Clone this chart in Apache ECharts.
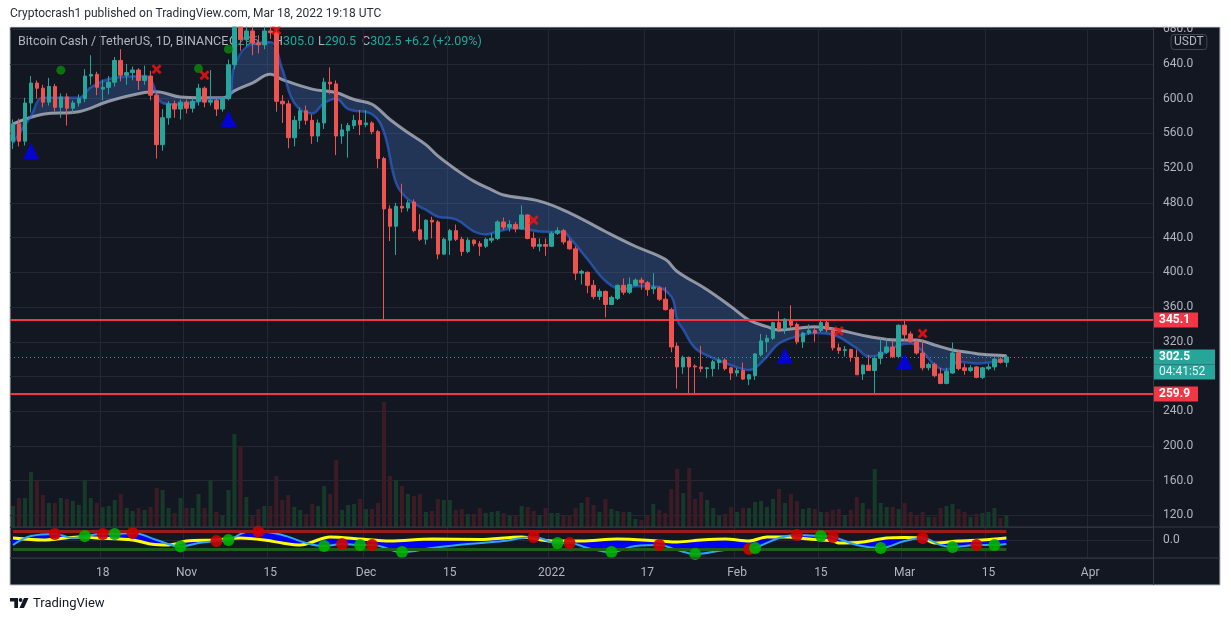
<!DOCTYPE html>
<html><head><meta charset="utf-8">
<script src="https://cdn.jsdelivr.net/npm/echarts@6/dist/echarts.min.js"></script>
<style>html,body{margin:0;padding:0;background:#fff;}#c{width:1231px;height:621px;}</style>
</head><body><div id="c"></div>
<script>
const FONT = 'Roboto, "Noto Sans", Arial, sans-serif';

// ---- categories (daily, 2021-10-03 .. 2022-04-10) ----
const START_UTC = Date.UTC(2021, 9, 3);
const DAY_COUNT = 191;
const categories = [];
for (let i = 0; i < DAY_COUNT; i++) categories.push(new Date(START_UTC + i * 86400000).toISOString().slice(0, 10));

const tickLabels = {
  '2021-10-18': '18', '2021-11-01': 'Nov', '2021-11-15': '15', '2021-12-01': 'Dec',
  '2021-12-15': '15', '2022-01-01': '2022', '2022-01-17': '17', '2022-02-01': 'Feb',
  '2022-02-15': '15', '2022-03-01': 'Mar', '2022-03-15': '15', '2022-04-01': 'Apr'
};
const priceTicks = { min: 120, max: 680, step: 40 };

// ---- candles [open, close, low, high] ----
const ohlc = [
[551,571,542,576],[571,551,545,577],[551,595,546,601],[595,618,584,626],[618,612,600,621],[612,596,590,616],[596,614,592,624],[614,590,585,617],[590,602,578,606],[602,589,569,606],
[589,595,583,598],[595,600,591,605],[600,626,596,634],[626,628,616,650],[628,613,604,631],[611,613,598,622],[613,619,605,626],[619,644,614,648],[644,627,620,657],[627,630,616,640],
[630,633,621,637],[633,621,610,635],[621,626,616,638],[626,604,598,632],[604,547,531,607],[547,578,540,588],[578,594,570,597],[594,588,578,598],[588,596,576,599],[596,589,583,599],
[589,597,584,601],[597,612,592,617],[612,596,590,614],[596,598,592,633],[598,588,580,600],[588,600,585,602],[600,639,598,645],[639,702,634,712],[702,668,655,722],[668,678,660,690],
[678,664,650,684],[664,662,652,673],[662,678,657,688],[678,676,669,700],[676,597,585,680],[597,594,572,604],[594,555,543,598],[555,575,545,580],[575,586,565,590],[586,575,570,592],
[575,557,548,582],[557,572,550,576],[572,619,565,624],[619,617,605,636],[617,557,535,621],[557,564,548,571],[563,569,532,572],[569,575,565,581],[575,570,558,587],[570,572,567,587],
[572,562,559,574],[562,531,520,564],[531,473,345,533],[473,453,436,477],[453,476,420,480],[476,474,469,502],[474,480,470,483],[481,448,446,484],[449,438,436,467],[438,460,432,461],
[460,458,439,464],[458,421,415,460],[421,438,420,440],[437,448,420,450],[448,438,436,455],[438,424,419,441],[424,437,422,440],[437,433,430,438],[433,430,419,436],[430,438,428,440],
[437,439,434,445],[439,458,437,460],[458,452,449,463],[452,455,447,460],[455,450,446,458],[450,466,449,477],[466,439,438,467],[439,430,427,446],[430,432,424,439],[432,430,419,439],
[430,445,429,447],[445,448,443,452],[448,435,432,450],[436,427,426,439],[427,399,391,430],[399,401,386,403],[400,385,376,401],[385,372,369,391],[372,378,368,381],[378,363,348,379],
[363,371,362,373],[370,385,368,386],[385,377,374,393],[377,386,375,394],[385,391,384,393],[391,388,380,394],[388,380,373,390],[381,383,375,399],[382,369,367,384],[369,357,356,383],
[357,314,308,359],[315,291,266,319],[291,302,283,304],[302,291,261,303],[292,291,261,294],[291,289,285,315],[289,290,278,291],[289,297,280,299],[296,299,288,301],[299,289,287,301],
[290,284,276,291],[284,287,280,290],[287,277,276,296],[277,282,270,283],[281,306,276,307],[305,321,303,329],[320,324,308,328],[324,342,322,343],[342,335,331,355],[335,346,329,347],
[344,339,336,362],[340,320,317,342],[320,330,313,331],[330,333,328,340],[333,330,320,336],[333,342,331,344],[342,334,331,344],[334,313,310,336],[313,310,306,318],[310,311,303,315],
[311,302,297,312],[302,282,282,311],[283,293,276,294],[293,287,287,305],[287,301,261,303],[301,308,294,324],[308,314,306,324],[314,303,301,322],[303,339,301,340],[339,328,321,344],
[329,320,319,332],[320,307,305,322],[307,290,287,322],[290,294,287,296],[294,281,279,296],[283,272,271,290],[272,286,271,290],[284,307,283,319],[307,289,287,310],[290,287,282,295],
[287,290,285,293],[291,279,278,292],[279,290,277,291],[289,291,287,295],[291,300,287,301],[300,296.3,295,302],[296.3,302.5,290.5,305]
];

// ---- volume (relative units) ----
const volume = [
21,29,29,55,46,32,24,24,29,28, 26,22,47,29,24,20,21,27,33,19, 16,19,17,20,39,37,19,14,29,19,
19,33,19,47,15,11,37,93,81,30, 11,18,21,21,51,27,32,20,17,13, 23,21,41,33,67,17,22,23,28,18,
18,24,125,51,47,41,33,31,33,15, 16,28,27,27,17,18,13,13,19,14, 15,16,14,11,12,21,20,16,12,19,
14,14,11,12,19,24,30,22,15,28, 18,16,15,15,8,7,11,23,17,14, 38,58,34,59,28,35,27,19,11,13,
20,15,19,19,25,26,20,28,38,24, 33,26,18,19,18,15,15,17,18,12, 17,30,24,18,58,24,20,20,18,24,
15,12,15,10,10,19,21,23,18,15, 10,13,14,15,19,9,12
];

// ---- EMA ribbon edges [dayIndex, price] ----
const emaFast = [[0,549],[3,580],[5,601],[11,601],[13,613],[17,624],[22,626],[23,622],[25,595],[28,593],[33,600],[36,601],[37,638],[40,663],[43,665],[45,634],[47,595],[50,583],[52,595],[54,600],[56,588],[60,582],[62,561],[64,503],[66,484],[69,472],[71,464],[74,461],[77,447],[79,443.5],[81,447],[84,451],[88,447],[92,446],[93,440],[96,415],[99,390],[102,380],[104,384],[107,384],[110,372],[111,345],[112,334],[114,312.5],[117,301],[120,293],[123,287.5],[124,289.5],[126,303],[128,318],[131,326],[134,330],[137,328],[141,312.5],[143,303],[145,305],[148,316],[150,318],[152,308.6],[154,293],[156,287.5],[158,297],[161,295],[163,296],[166,298]];
const emaSlow = [[0,571],[5,582],[11,585],[16,597],[22,607],[24,608],[28,602],[35,601],[37,609],[40,618],[43,628],[45,622],[50,611],[54,607],[57,599],[60,593.5],[63,576],[66,561],[69,547],[71,534],[74,518.5],[77,505],[80,495],[82,489],[88,482],[93,468.5],[99,447],[104,430],[109,415],[111,401],[116,380],[120,360.5],[123,345],[126,337.4],[128,333.6],[131,335.5],[134,337.4],[138,333.6],[143,326],[148,322],[151,322],[154,316.3],[157,310.6],[160,307.5],[162,305.6],[166,304]];

// ---- signals on price ----
const buySignals = [[3,539.6],[36,576.6],[129,304],[149,297.5]];
const greenDots = [[8,632.8],[31,634.6],[36,657]];
const sellCrosses = [[24,634],[32,627],[44,679],[87,460],[138,332.5],[152,329.5]];

// ---- horizontal levels ----
const resistance = 345.1, support = 259.9, lastClose = 302.5, countdown = '04:41:52';
const legend = { symbol: 'Bitcoin Cash / TetherUS, 1D, BINANCE', open: '296.3', high: '305.0', low: '290.5', close: '302.5', change: '+6.2 (+2.09%)' };

// ---- lower oscillator pane ----
const wtLine = [[0,-5],[3,4],[7,6],[10,2],[12,4],[15,6],[17,6],[20,7],[24,0],[28,-6.5],[31,-3],[34,-1],[36,0],[39,8],[41,8.5],[45,5],[49,-3],[52,-6],[55,-4],[58,-5],[60,-5],[65,-12],[70,-8],[76,-4],[82,-1],[85,2],[87,3],[91,-3],[93,-3],[96,-8],[100,-12],[104,-6],[108,-5],[111,-10],[114,-14],[119,-10],[123,-9],[124,-8],[128,2],[131,5],[135,4],[137,3],[141,-5],[145,-8],[149,-1],[152,2],[155,-5],[157,-7],[161,-5],[164,-5],[166,-4]];
const mfLine = [[0,2],[5,0],[11,3],[14,2],[20,0],[23,-4],[26,-5],[29,-1],[34,0],[38,2],[42,0],[45,-3],[48,-5],[53,3],[58,1],[63,-1],[70,1],[78,0.5],[85,3],[90,-1],[95,-1],[101,1],[108,-1],[111,-2],[115,0],[119,1],[123,-1],[126,3],[129,3],[133,1],[137,-1],[138,-3],[142,-2],[146,2],[149,2.5],[152,2],[154,-3],[158,-1],[162,0],[166,2]];
const crossDown = [[7,6],[15,6],[20,7],[34,-1],[41,8.5],[55,-4],[60,-5],[87,3],[93,-3],[108,-5],[123,-9],[131,5],[137,3],[152,2],[161,-5]];
const crossUp = [[12,4],[17,6],[28,-6.5],[36,0],[52,-6],[58,-5],[65,-12],[91,-3],[100,-12],[114,-14],[124,-8],[135,4],[145,-8],[157,-7],[164,-5]];
const paneLevels = { upper: 8.3, lower: -9.7 };

// ---------------------------------------------------------------
const UP = '#26a69a', DOWN = '#ef5350';
const VOL_UP = '#16392a', VOL_DOWN = '#3b1c25';
const GRIDLINE = '#242834';
const lastIdx = ohlc.length - 1;
const volData = volume.map((v, i) => ({ value: v, itemStyle: { color: ohlc[i][1] >= ohlc[i][0] ? VOL_UP : VOL_DOWN } }));

const L = 10, W = 1143;
const isTick = (i, v) => tickLabels[v] !== undefined;

function polygonBetween(a, b, fill, opacity) {
  return function (params, api) {
    const pts = a.map(p => api.coord([p[0], p[1]])).concat(b.slice().reverse().map(p => api.coord([p[0], p[1]])));
    return { type: 'polygon', shape: { points: pts, smooth: 0.25 }, style: { fill: fill, opacity: opacity } };
  };
}
const LEG_FONT = '12.5px ' + FONT;
function legendPart(x, l, v) {
  return { type: 'text', z: -5, x: x, y: 42, style: { text: (l ? '{l|' + l + '}' : '') + '{v|' + v + '}', verticalAlign: 'middle', font: LEG_FONT,
    rich: { l: { fill: '#b2b5be', font: LEG_FONT }, v: { fill: UP, font: LEG_FONT } } } };
}

const chart = echarts.init(document.getElementById('c'), null, { renderer: 'canvas' });
chart.setOption({
  animation: false,
  backgroundColor: '#ffffff',
  textStyle: { fontFamily: FONT },
  grid: [
    { left: L, width: W, top: 29.2, height: 486.2, containLabel: false, outerBoundsMode: 'none' },
    { left: L, width: W, top: 29.2, height: 497.8, containLabel: false, outerBoundsMode: 'none' },
    { left: L, width: W, top: 527, height: 31, containLabel: false, outerBoundsMode: 'none' }
  ],
  xAxis: [
    { type: 'category', gridIndex: 0, data: categories, show: false },
    { type: 'category', gridIndex: 1, data: categories, axisLine: { show: false }, axisTick: { show: false }, axisLabel: { show: false },
      splitLine: { show: true, interval: isTick, lineStyle: { color: GRIDLINE, width: 1 } } },
    { type: 'category', gridIndex: 2, data: categories, axisLine: { show: false }, axisTick: { show: false },
      axisLabel: { interval: isTick, formatter: v => tickLabels[v] || '', color: '#b2b5be', fontSize: 12, margin: 9, fontFamily: FONT },
      splitLine: { show: true, interval: isTick, lineStyle: { color: GRIDLINE, width: 1 } } }
  ],
  yAxis: [
    { type: 'value', gridIndex: 0, position: 'right', min: priceTicks.min, max: priceTicks.max, interval: priceTicks.step,
      axisLine: { show: false }, axisTick: { show: false },
      axisLabel: { color: '#b2b5be', fontSize: 12, margin: 10, formatter: v => v.toFixed(1), fontFamily: FONT },
      splitLine: { show: true, lineStyle: { color: GRIDLINE, width: 1 } } },
    { type: 'value', gridIndex: 1, min: 0, max: 497.8, show: false },
    { type: 'value', gridIndex: 2, position: 'right', min: -18, max: 13, interval: 18,
      axisLine: { show: false }, axisTick: { show: false },
      axisLabel: { color: '#b2b5be', fontSize: 12, margin: 10, formatter: v => (v === 0 ? '0.0' : ''), fontFamily: FONT },
      splitLine: { show: true, lineStyle: { color: GRIDLINE, width: 1 } } }
  ],
  graphic: [
    { type: 'rect', z: -10, shape: { x: 10, y: 27, width: 1210, height: 558 }, style: { fill: '#131722', stroke: '#b8bcc6', lineWidth: 1 } },
    { type: 'text', z: -5, x: 18, y: 42, style: { text: legend.symbol, fill: '#b2b5be', font: LEG_FONT, verticalAlign: 'middle' } },
    legendPart(229, 'O', legend.open),
    legendPart(274, 'H', legend.high),
    legendPart(318, 'L', legend.low),
    legendPart(362, 'C', legend.close),
    legendPart(405, '', legend.change),
    { type: 'text', z: 50, x: 1171, y: 42, style: { text: 'USDT', fill: '#b2b5be', font: '12px ' + FONT, verticalAlign: 'middle',
        borderColor: '#434651', borderWidth: 1, borderRadius: 3, padding: [2, 3, 1, 3] } },
    { type: 'line', z: 40, shape: { x1: 10, y1: 527, x2: 1220, y2: 527 }, style: { stroke: '#363a45', lineWidth: 1 } },
    { type: 'line', z: 40, shape: { x1: 10, y1: 558, x2: 1220, y2: 558 }, style: { stroke: '#363a45', lineWidth: 1 } },
    { type: 'line', z: 40, shape: { x1: 1153.5, y1: 27, x2: 1153.5, y2: 585 }, style: { stroke: '#363a45', lineWidth: 1 } },
    { type: 'rect', z: 100, shape: { x: 0, y: 0, width: 1231, height: 26.5 }, style: { fill: '#ffffff' } },
    { type: 'text', z: 101, x: 10, y: 14, style: { text: 'Cryptocrash1 published on TradingView.com, Mar 18, 2022 19:18 UTC', fill: '#2a2e39', font: '12px ' + FONT, verticalAlign: 'middle' } },
    { type: 'rect', z: 101, shape: { x: 10, y: 598, width: 8, height: 3.5 }, style: { fill: '#131722' } },
    { type: 'rect', z: 101, shape: { x: 14.3, y: 598, width: 3.7, height: 10 }, style: { fill: '#131722' } },
    { type: 'circle', z: 101, shape: { cx: 20.6, cy: 600, r: 1.9 }, style: { fill: '#131722' } },
    { type: 'polygon', z: 101, shape: { points: [[24, 598], [28.5, 598], [24, 608], [19.5, 608]] }, style: { fill: '#131722' } },
    { type: 'text', z: 101, x: 33, y: 603.5, style: { text: 'TradingView', fill: '#131722', font: '13px ' + FONT, verticalAlign: 'middle' } }
  ],
  series: [
    { type: 'bar', name: 'Volume', xAxisIndex: 1, yAxisIndex: 1, data: volData, barWidth: 4, z: 1, silent: true },
    { type: 'custom', name: 'RibbonBand', xAxisIndex: 0, yAxisIndex: 0, data: [[0, 0]], clip: true, z: 2, silent: true,
      renderItem: polygonBetween(emaFast, emaSlow, '#4677c8', 0.32) },
    { type: 'line', name: 'EMA slow', xAxisIndex: 0, yAxisIndex: 0, data: emaSlow, smooth: 0.4, showSymbol: false, z: 3, silent: true,
      lineStyle: { color: '#d0d3db', width: 3, opacity: 0.65 } },
    { type: 'line', name: 'EMA fast', xAxisIndex: 0, yAxisIndex: 0, data: emaFast, smooth: 0.4, showSymbol: false, z: 3, silent: true,
      lineStyle: { color: '#2f6be8', width: 2.5, opacity: 0.6 } },
    { type: 'candlestick', name: 'BCHUSDT', xAxisIndex: 0, yAxisIndex: 0, data: ohlc, barWidth: 4, z: 5, clip: true,
      itemStyle: { color: UP, color0: DOWN, borderColor: UP, borderColor0: DOWN, borderWidth: 1 },
      markLine: {
        silent: true, symbol: ['none', 'none'], animation: false,
        data: [
          { yAxis: resistance, lineStyle: { color: '#f23645', width: 2, type: 'solid' },
            label: { show: true, position: 'end', distance: 1, formatter: resistance.toFixed(1), color: '#fff', backgroundColor: '#f23645', fontWeight: 'bold', fontSize: 12, padding: [2, 8, 1, 5], fontFamily: FONT } },
          { yAxis: support, lineStyle: { color: '#f23645', width: 2, type: 'solid' },
            label: { show: true, position: 'end', distance: 1, formatter: support.toFixed(1), color: '#fff', backgroundColor: '#f23645', fontWeight: 'bold', fontSize: 12, padding: [2, 8, 1, 5], fontFamily: FONT } },
          { yAxis: lastClose, lineStyle: { color: UP, width: 1, type: [1, 3] },
            label: { show: true, position: 'end', distance: 1,
              formatter: '{c| }\n{a|' + lastClose.toFixed(1) + '}\n{b|' + countdown + '}',
              rich: {
                c: { height: 15, lineHeight: 15, fontSize: 12 },
                a: { color: '#fff', fontWeight: 'bold', fontSize: 12, height: 15, lineHeight: 15, width: 56, padding: [0, 0, 0, 5], backgroundColor: UP, fontFamily: FONT },
                b: { color: '#e6f4f2', fontSize: 12, height: 15, lineHeight: 15, width: 56, padding: [0, 0, 0, 5], backgroundColor: UP, fontFamily: FONT } } } }
        ]
      } },
    { type: 'scatter', name: 'Buy', xAxisIndex: 0, yAxisIndex: 0, data: buySignals, symbol: 'triangle', symbolSize: 16, z: 6,
      itemStyle: { color: '#0000ff' } },
    { type: 'scatter', name: 'Dot', xAxisIndex: 0, yAxisIndex: 0, data: greenDots, symbol: 'circle', symbolSize: 9, z: 6,
      itemStyle: { color: '#0a8a0a' } },
    { type: 'scatter', name: 'Sell', xAxisIndex: 0, yAxisIndex: 0, data: sellCrosses, z: 6,
      symbol: 'path://M2,0L5,3L8,0L10,2L7,5L10,8L8,10L5,7L2,10L0,8L3,5L0,2Z', symbolSize: 10,
      itemStyle: { color: '#ff1010' } },
    // lower pane
    { type: 'custom', name: 'OscFill', xAxisIndex: 2, yAxisIndex: 2, data: [[0, 0]], clip: true, z: 2, silent: true,
      renderItem: polygonBetween(wtLine, mfLine, '#0000f5', 1) },
    { type: 'line', name: 'Levels', xAxisIndex: 2, yAxisIndex: 2, data: [], z: 2, silent: true,
      markLine: { silent: true, symbol: ['none', 'none'], label: { show: false },
        lineStyle: { type: 'solid', width: 3 },
        data: [
          [{ coord: [0, paneLevels.upper], lineStyle: { color: '#9a1c1c', width: 3, type: 'solid' } }, { coord: [lastIdx, paneLevels.upper] }],
          [{ coord: [0, paneLevels.lower], lineStyle: { color: '#1d5e1d', width: 3, type: 'solid' } }, { coord: [lastIdx, paneLevels.lower] }]
        ] } },
    { type: 'line', name: 'MF', xAxisIndex: 2, yAxisIndex: 2, data: mfLine, smooth: 0.3, showSymbol: false, z: 3, silent: true,
      lineStyle: { color: '#ffff00', width: 3 } },
    { type: 'line', name: 'WT', xAxisIndex: 2, yAxisIndex: 2, data: wtLine, smooth: 0.4, showSymbol: false, z: 4, silent: true,
      lineStyle: { color: '#2fa6f2', width: 2 } },
    { type: 'scatter', name: 'CrossDown', xAxisIndex: 2, yAxisIndex: 2, data: crossDown, symbolSize: 12, z: 6,
      itemStyle: { color: '#d00000', opacity: 0.9 } },
    { type: 'scatter', name: 'CrossUp', xAxisIndex: 2, yAxisIndex: 2, data: crossUp, symbolSize: 12, z: 6,
      itemStyle: { color: '#00b000', opacity: 0.9 } }
  ]
});
</script></body></html>
